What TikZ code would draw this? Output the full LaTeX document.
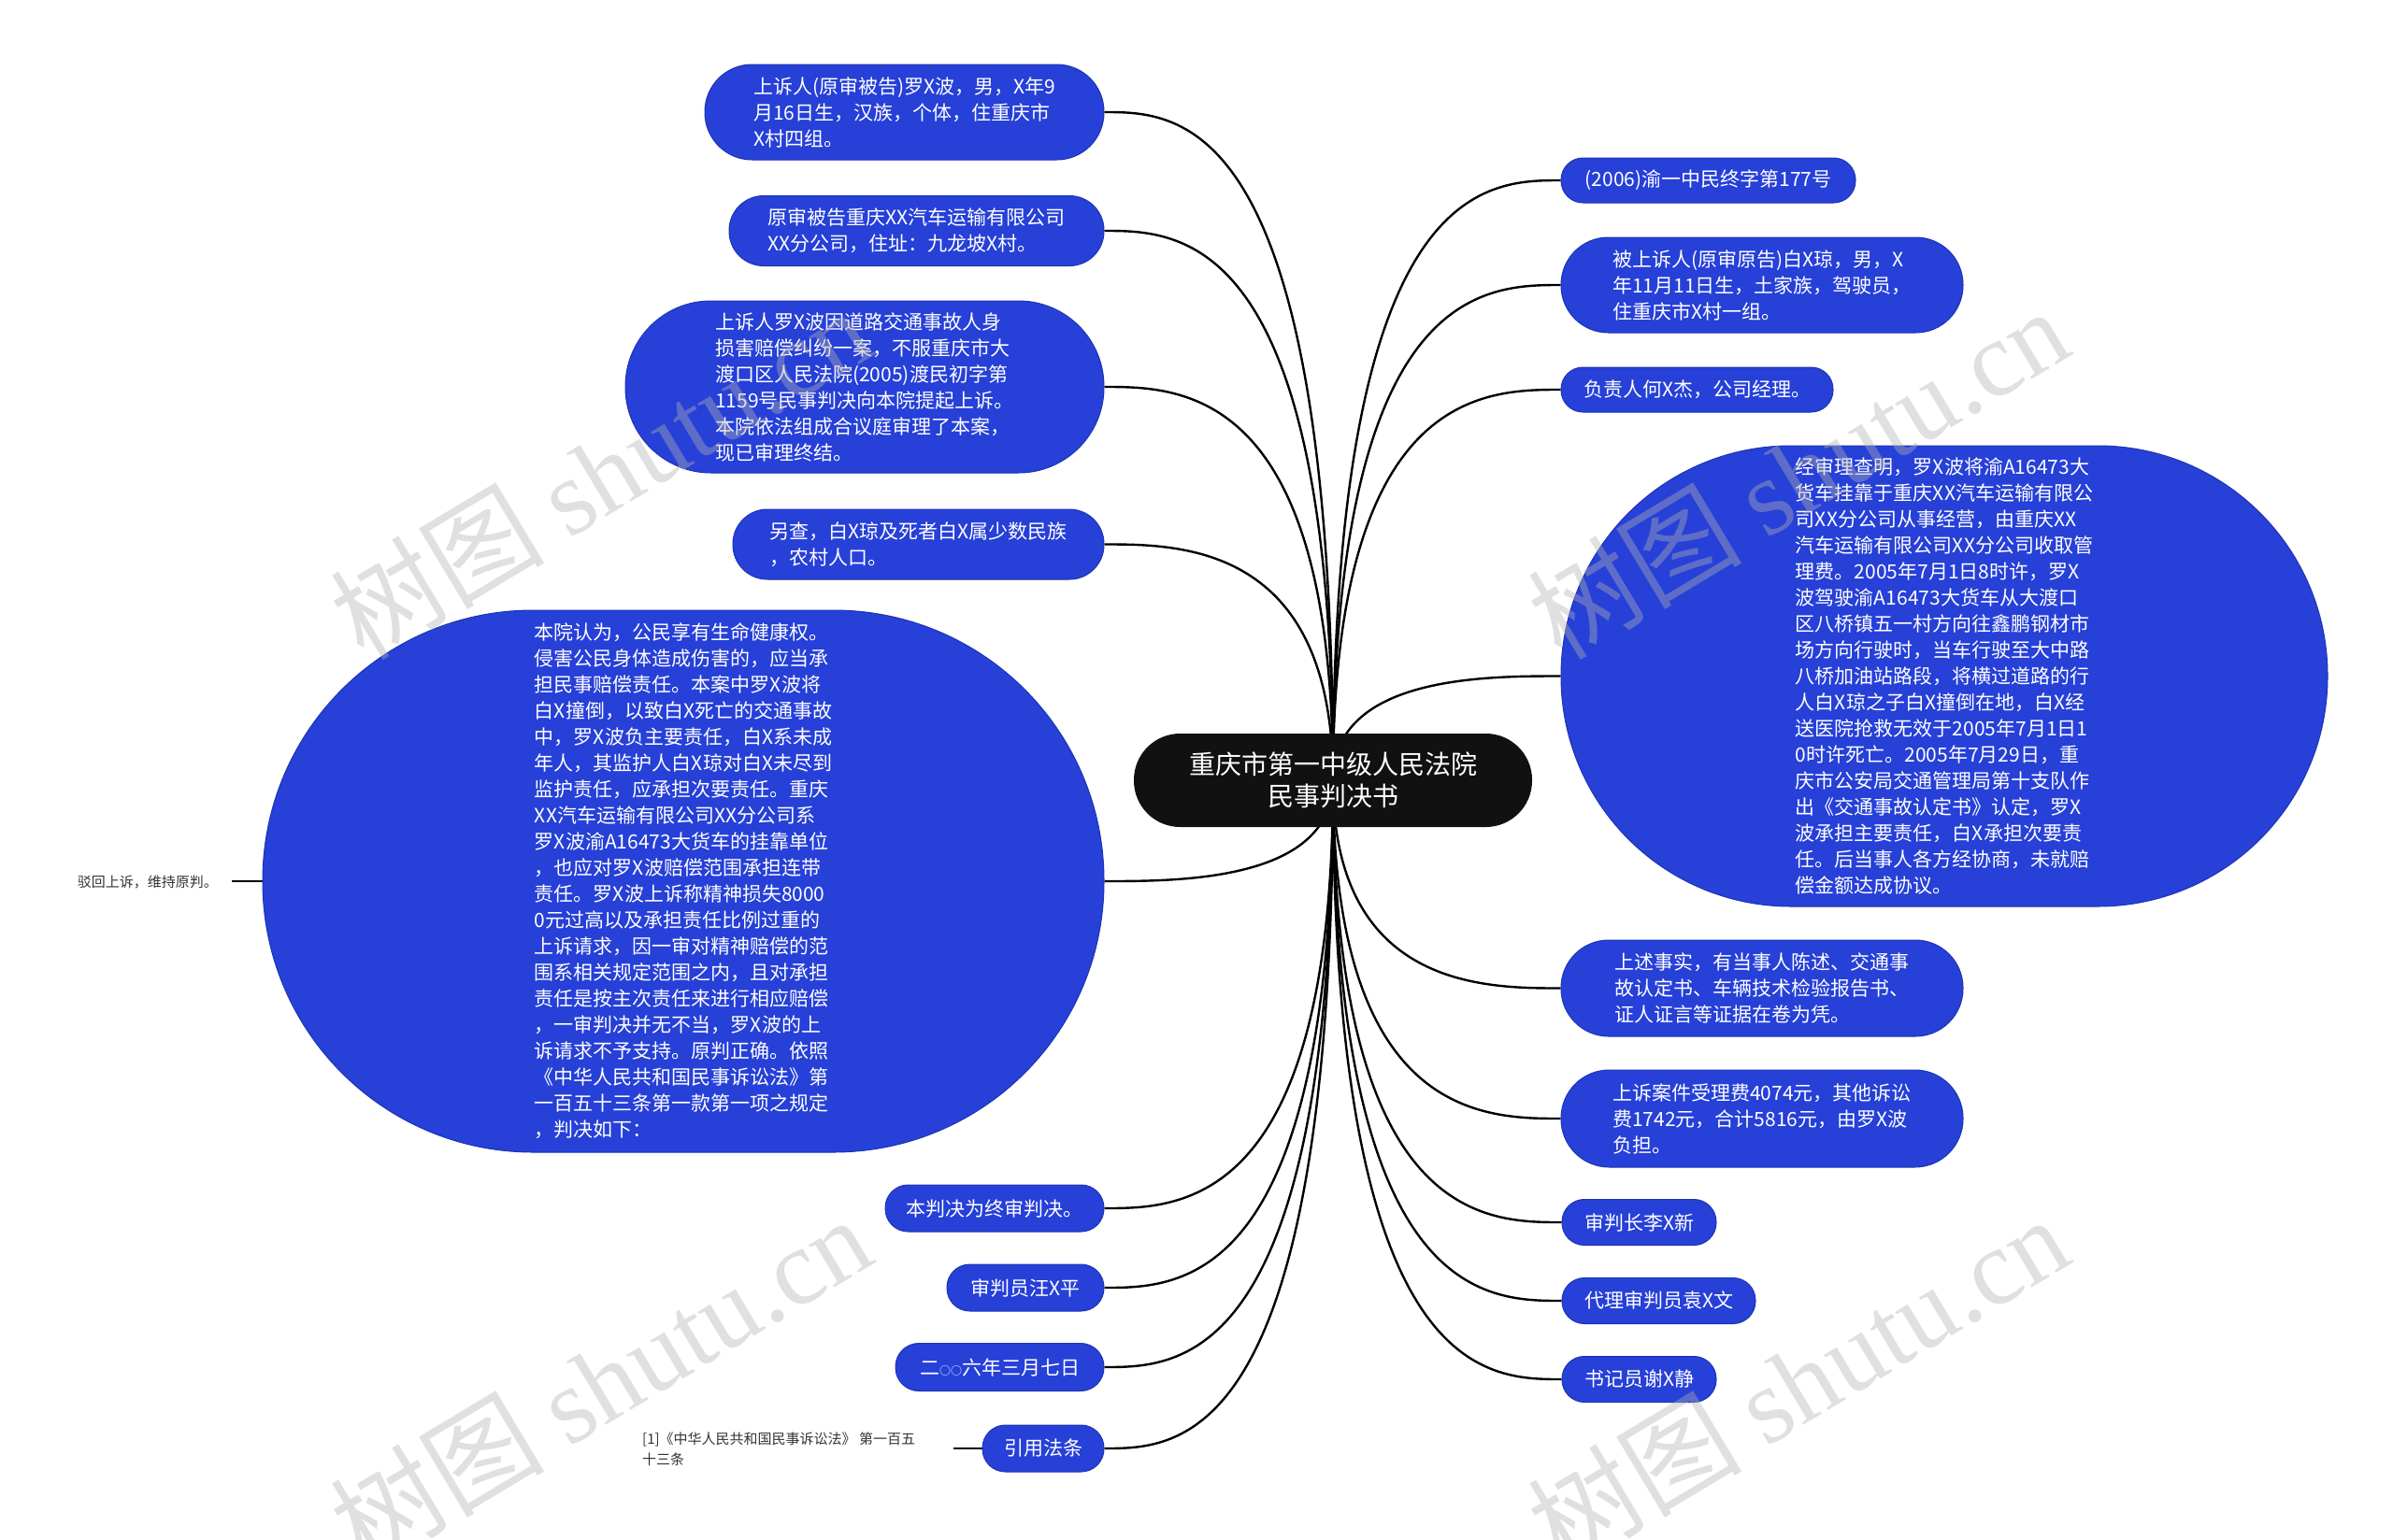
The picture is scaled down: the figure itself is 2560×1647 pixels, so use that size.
\documentclass[tikz,border=0pt]{standalone}
\usepackage{fontspec}
\setmainfont{Noto Sans CJK SC}
\newfontfamily\wmserif{Liberation Serif}
\usetikzlibrary{calc,backgrounds}
\definecolor{nodeblue}{HTML}{2640D8}
\definecolor{nodeedge}{HTML}{1D34B4}
\definecolor{rootblack}{HTML}{111111}
\definecolor{leafgray}{HTML}{333333}
\tikzset{
  box/.style n args={3}{minimum width=#1pt, minimum height=#2pt, rounded corners=#3pt},
  bnode/.style={draw=nodeedge, line width=1pt, fill=nodeblue, text=white, inner sep=0pt,
    align=left, font=\fontsize{21}{28}\selectfont},
  rootnode/.style={fill=rootblack, text=white, inner sep=0pt, align=center,
    font=\fontsize{28}{34}\selectfont},
  conn/.style={draw=black, line width=2.4pt},
  leaf/.style={text=leafgray, inner sep=0pt, align=left, font=\fontsize{15}{22}\selectfont},
  wm/.style={text=gray!60, opacity=0.4, rotate=31, inner sep=0pt,
    font=\fontsize{115}{115}\selectfont}
}
\newcommand\linkL[1]{\draw[conn] (root.center) .. controls (root.center |- #1.east) and ($(#1.east)!0.333!(root.center |- #1.east)$) .. (#1.east);}
\newcommand\linkR[1]{\draw[conn] (root.center) .. controls (root.center |- #1.west) and ($(#1.west)!0.333!(root.center |- #1.west)$) .. (#1.west);}
\begin{document}
\begin{tikzpicture}[x=1pt,y=-1pt]
\useasboundingbox (0,0) rectangle (2560,1647);

\node[rootnode, box={426}{100}{49.5}] (root) at (1426,835) {重庆市第一中级人民法院\\民事判决书};

% left nodes
\node[bnode, box={427}{102}{50.5}] (L1) at (967.5,120) {上诉人(原审被告)罗X波，男，X年9\\月16日生，汉族，个体，住重庆市\\X村四组。};
\node[bnode, box={401}{75}{37}] (L2) at (980.5,247) {原审被告重庆XX汽车运输有限公司\\XX分公司，住址：九龙坡X村。};
\node[bnode, box={512}{184}{91.5}] (L3) at (925,414) {上诉人罗X波因道路交通事故人身\\损害赔偿纠纷一案，不服重庆市大\\渡口区人民法院(2005)渡民初字第\\1159号民事判决向本院提起上诉。\\本院依法组成合议庭审理了本案，\\现已审理终结。};
\node[bnode, box={397}{75}{37}] (L4) at (982.5,582.5) {另查，白X琼及死者白X属少数民族\\，农村人口。};
\node[bnode, box={900}{580}{289.5}] (L5) at (731,943) {本院认为，公民享有生命健康权。\\侵害公民身体造成伤害的，应当承\\担民事赔偿责任。本案中罗X波将\\白X撞倒，以致白X死亡的交通事故\\中，罗X波负主要责任，白X系未成\\年人，其监护人白X琼对白X未尽到\\监护责任，应承担次要责任。重庆\\XX汽车运输有限公司XX分公司系\\罗X波渝A16473大货车的挂靠单位\\，也应对罗X波赔偿范围承担连带\\责任。罗X波上诉称精神损失8000\\0元过高以及承担责任比例过重的\\上诉请求，因一审对精神赔偿的范\\围系相关规定范围之内，且对承担\\责任是按主次责任来进行相应赔偿\\，一审判决并无不当，罗X波的上\\诉请求不予支持。原判正确。依照\\《中华人民共和国民事诉讼法》第\\一百五十三条第一款第一项之规定\\，判决如下：};
\node[bnode, box={234}{50}{24.5}] (L6) at (1064,1293) {本判决为终审判决。};
\node[bnode, box={168}{50}{24.5}] (L7) at (1097,1378) {审判员汪X平};
\node[bnode, box={223}{51}{25}] (L8) at (1069.5,1463) {二{\fontsize{12}{12}\selectfont ○○}六年三月七日};
\node[bnode, box={130}{50}{24.5}] (L9) at (1116,1550) {引用法条};

% right nodes
\node[bnode, box={315}{48}{23.5}] (R1) at (1827.5,193) {(2006)渝一中民终字第177号};
\node[bnode, box={430}{102}{50.5}] (R2) at (1885,305) {被上诉人(原审原告)白X琼，男，X\\年11月11日生，土家族，驾驶员，\\住重庆市X村一组。};
\node[bnode, box={291}{48}{23.5}] (R3) at (1815.5,417) {负责人何X杰，公司经理。};
\node[bnode, box={820}{493}{246}] (R4) at (2080,723.5) {经审理查明，罗X波将渝A16473大\\货车挂靠于重庆XX汽车运输有限公\\司XX分公司从事经营，由重庆XX\\汽车运输有限公司XX分公司收取管\\理费。2005年7月1日8时许，罗X\\波驾驶渝A16473大货车从大渡口\\区八桥镇五一村方向往鑫鹏钢材市\\场方向行驶时，当车行驶至大中路\\八桥加油站路段，将横过道路的行\\人白X琼之子白X撞倒在地，白X经\\送医院抢救无效于2005年7月1日1\\0时许死亡。2005年7月29日，重\\庆市公安局交通管理局第十支队作\\出《交通事故认定书》认定，罗X\\波承担主要责任，白X承担次要责\\任。后当事人各方经协商，未就赔\\偿金额达成协议。};
\node[bnode, box={430}{103}{51}] (R5) at (1885,1057.5) {上述事实，有当事人陈述、交通事\\故认定书、车辆技术检验报告书、\\证人证言等证据在卷为凭。};
\node[bnode, box={430}{104}{51.5}] (R6) at (1885,1197) {上诉案件受理费4074元，其他诉讼\\费1742元，合计5816元，由罗X波\\负担。};
\node[bnode, box={165}{49}{24}] (R7) at (1753.5,1308) {审判长李X新};
\node[bnode, box={207}{49}{24}] (R8) at (1774.5,1392) {代理审判员袁X文};
\node[bnode, box={165}{49}{24}] (R9) at (1753.5,1476) {书记员谢X静};

% leaves
\node[leaf, anchor=east] (L5a) at (233,944) {驳回上诉，维持原判。};
\node[leaf, anchor=west] (L9a) at (687,1551) {[1]《中华人民共和国民事诉讼法》 第一百五\\十三条};
\coordinate (L5e) at (248,943);
\coordinate (L9e) at (1020,1550);

% connectors behind nodes
\begin{scope}[on background layer]
\fill[white] (0,0) rectangle (2560,1647);
\linkL{L1}\linkL{L2}\linkL{L3}\linkL{L4}\linkL{L5}\linkL{L6}\linkL{L7}\linkL{L8}\linkL{L9}
\linkR{R1}\linkR{R2}\linkR{R3}\linkR{R4}\linkR{R5}\linkR{R6}\linkR{R7}\linkR{R8}\linkR{R9}
\draw[conn] (L5.west) -- (L5e);
\draw[conn] (L9.west) -- (L9e);
\end{scope}

% watermarks
\node[wm] (wm1) at (642,506) {树图 {\wmserif shutu.cn}};
\node[wm] (wm2) at (1923,506) {树图 {\wmserif shutu.cn}};
\node[wm] (wm3) at (642,1478) {树图 {\wmserif shutu.cn}};
\node[wm] (wm4) at (1923,1478) {树图 {\wmserif shutu.cn}};
\end{tikzpicture}
\end{document}
